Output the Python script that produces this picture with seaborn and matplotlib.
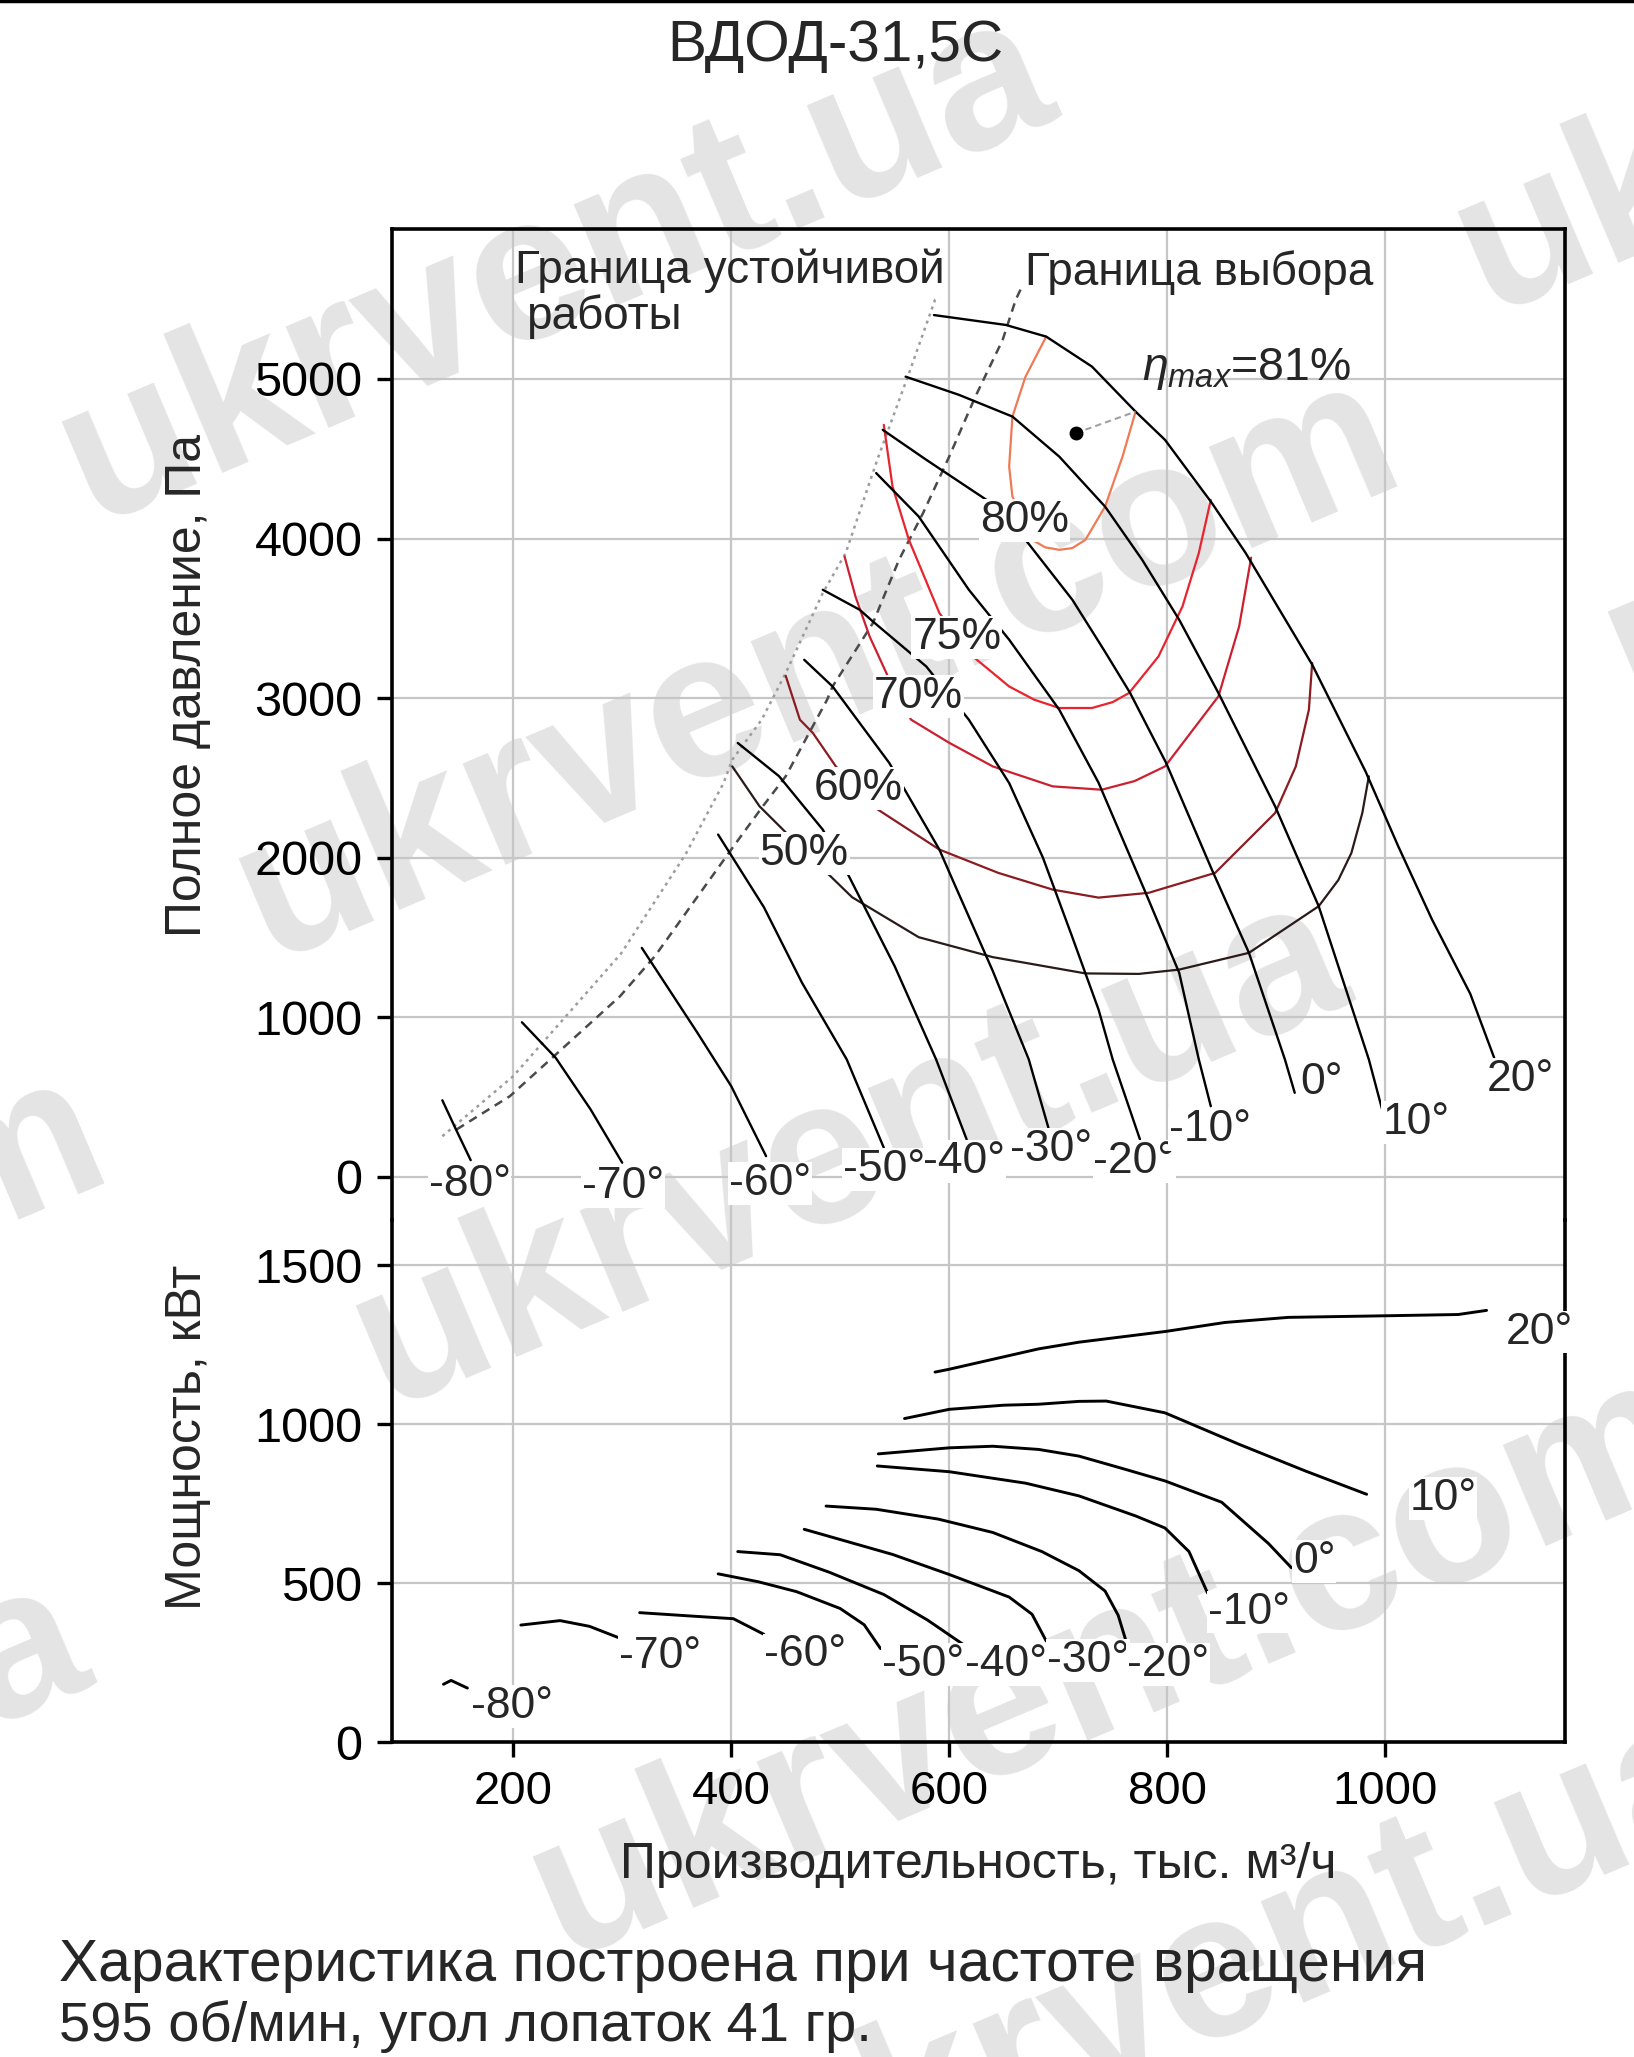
import matplotlib
matplotlib.use("Agg")
import matplotlib.pyplot as plt
from matplotlib.lines import Line2D
import seaborn as sns

sns.set_theme(style="whitegrid")
plt.rcParams['font.family'] = ['Liberation Sans', 'DejaVu Sans']
plt.rcParams['mathtext.fontset'] = 'custom'
plt.rcParams['mathtext.rm'] = 'Liberation Sans'
plt.rcParams['mathtext.it'] = 'Liberation Sans:italic'

# ---- pressure curves: Q (thousand m3/h) vs total pressure (Pa), per blade angle
q_m80 = [135, 148, 161]
p_m80 = [480, 290, 105]
q_m70 = [208, 239, 271, 300]
p_m70 = [969, 746, 423, 89]
q_m60 = [318, 369, 400, 432]
p_m60 = [1435, 903, 569, 130]
q_m50 = [388, 430, 465, 506, 540]
p_m50 = [2145, 1690, 1216, 736, 183]
q_m40 = [406, 444, 484, 508, 550, 588, 616]
p_m40 = [2719, 2510, 2176, 1884, 1320, 736, 235]
q_m30 = [467, 493, 545, 591, 603, 640, 673, 691]
p_m30 = [3240, 3073, 2594, 2051, 1863, 1290, 736, 308]
q_m20 = [484, 518, 530, 579, 618, 655, 686, 712, 737, 750, 775]
p_m20 = [3679, 3553, 3480, 3198, 2865, 2468, 2000, 1520, 1049, 736, 235]
q_m10 = [533, 572, 618, 655, 701, 737, 779, 811, 829, 840]
p_m10 = [4410, 4138, 3679, 3366, 2927, 2470, 1800, 1279, 736, 443]
q_0 = [539, 579, 634, 670, 713, 743, 766, 799, 841, 875, 908, 917]
p_0 = [4681, 4493, 4243, 3992, 3616, 3290, 3032, 2594, 1925, 1404, 736, 527]
q_10 = [560, 609, 658, 701, 743, 777, 811, 847, 899, 939, 985, 998]
p_10 = [5014, 4900, 4764, 4513, 4200, 3867, 3491, 3032, 2322, 1696, 736, 402]
q_20 = [586, 652, 689, 731, 771, 798, 841, 872, 933, 982, 1012, 1043, 1078, 1100]
p_20 = [5400, 5338, 5265, 5077, 4795, 4618, 4222, 3909, 3210, 2540, 2071, 1612, 1148, 746]

# ---- power curves: Q vs power (kW)
w_m80 = [136, 143, 158]
n_m80 = [183, 195, 171]
w_m70 = [207, 243, 270, 297]
n_m70 = [369, 383, 365, 329]
w_m60 = [316, 365, 402, 430]
n_m60 = [408, 397, 389, 340]
w_m50 = [388, 425, 460, 500, 522, 537]
n_m50 = [530, 505, 474, 421, 370, 295]
w_m40 = [406, 445, 490, 540, 580, 615]
n_m40 = [600, 590, 535, 465, 385, 303]
w_m30 = [467, 548, 600, 655, 676, 689]
n_m30 = [670, 591, 528, 457, 403, 319]
w_m20 = [487, 533, 590, 640, 685, 719, 743, 755, 763]
n_m20 = [743, 733, 702, 660, 600, 540, 476, 400, 310]
w_m10 = [534, 600, 670, 719, 771, 798, 820, 837]
n_m10 = [869, 851, 815, 775, 712, 674, 600, 470]
w_0 = [535, 600, 640, 682, 719, 760, 798, 850, 893, 914]
n_0 = [907, 926, 931, 921, 900, 860, 822, 755, 625, 549]
w_10 = [559, 600, 650, 682, 719, 744, 798, 866, 927, 983]
n_10 = [1018, 1047, 1060, 1063, 1072, 1073, 1036, 937, 853, 780]
w_20 = [587, 600, 682, 719, 799, 853, 911, 1000, 1067, 1093]
n_20 = [1164, 1173, 1237, 1258, 1292, 1320, 1336, 1341, 1345, 1358]

angle_labels = ['-80°', '-70°', '-60°', '-50°', '-40°', '-30°', '-20°', '-10°', '0°', '10°', '20°']

# ---- efficiency contours (Q, Pa)
eq_80 = [689, 670, 658, 655, 658, 676, 688, 701, 713, 725, 743, 759, 771]
ep_80 = [5265, 5014, 4764, 4451, 4263, 3992, 3945, 3929, 3940, 3992, 4200, 4513, 4795]
eq_75 = [540, 548, 563, 591, 618, 655, 678, 701, 731, 750, 765, 792, 814, 829, 840]
ep_75 = [4712, 4326, 3992, 3533, 3282, 3073, 2990, 2938, 2938, 2975, 3032, 3261, 3574, 3909, 4242]
eq_70 = [504, 514, 527, 548, 565, 600, 640, 695, 740, 770, 798, 847, 866, 877]
ep_70 = [3887, 3637, 3386, 3073, 2865, 2720, 2572, 2447, 2426, 2480, 2572, 3011, 3449, 3880]
eq_60 = [450, 463, 475, 496, 530, 591, 645, 695, 737, 783, 844, 899, 918, 930, 933]
ep_60 = [3140, 2865, 2781, 2572, 2322, 2051, 1905, 1800, 1750, 1780, 1905, 2280, 2572, 2927, 3220]
eq_50 = [401, 426, 469, 511, 572, 640, 725, 774, 811, 875, 939, 957, 969, 979, 985]
ep_50 = [2572, 2322, 2030, 1752, 1502, 1377, 1275, 1272, 1299, 1404, 1696, 1860, 2030, 2280, 2510]
eff_labels = ['80%', '75%', '70%', '60%', '50%']

# ---- operating limits
stab_q = [135, 200, 299, 358, 393, 401, 428, 450, 484, 505, 534, 562, 587, 591]
stab_p = [255, 631, 1400, 2020, 2468, 2614, 2865, 3157, 3658, 3908, 4493, 5014, 5495, 5510]
sel_q = [148, 197, 298, 330, 402, 429, 450, 488, 493, 530, 554, 576, 600, 624, 649, 661, 666]
sel_p = [297, 506, 1132, 1383, 2070, 2322, 2510, 2990, 3073, 3470, 3867, 4159, 4513, 4889, 5244, 5495, 5568]

eta_q, eta_p = 716, 4660
eta_tip_q, eta_tip_p = 771, 4795

pressure_curves = [(q_m80, p_m80), (q_m70, p_m70), (q_m60, p_m60), (q_m50, p_m50),
                   (q_m40, p_m40), (q_m30, p_m30), (q_m20, p_m20), (q_m10, p_m10),
                   (q_0, p_0), (q_10, p_10), (q_20, p_20)]
power_curves = [(w_m80, n_m80), (w_m70, n_m70), (w_m60, n_m60), (w_m50, n_m50),
                (w_m40, n_m40), (w_m30, n_m30), (w_m20, n_m20), (w_m10, n_m10),
                (w_0, n_0), (w_10, n_10), (w_20, n_20)]
eff_curves = [(eq_80, ep_80), (eq_75, ep_75), (eq_70, ep_70), (eq_60, ep_60), (eq_50, ep_50)]

# label placement (layout only)
p_lab_pos = [(160, -47), (301, -60), (436, -40), (540, 47), (614, 99), (693, 172),
             (770, 99), (839, 297), (942, 590), (1028, 339), (1124, 610)]
n_lab_pos = [(199, 113), (335, 270), (468, 275), (576, 244), (652, 244), (727, 258),
             (801, 244), (875, 410), (935, 570), (1053, 767), (1141, 1290)]
e_lab_pos = [(669, 4115), (607, 3380), (572, 3010), (517, 2435), (467, 2027)]
eff_colors = ['#f07a55', '#e8242e', '#cc2030', '#8a1c22', '#2a1a1a']

fig = plt.figure(figsize=(16.34, 20.57), dpi=100)

# watermark
wm = dict(color='#e4e4e4', fontsize=150, fontweight='bold', rotation=23,
          ha='center', va='center', zorder=-5)
for x, y, s in [(0.34, 0.87, 'ukrvent.ua'), (0.50, 0.675, 'ukrvent.com'),
                (0.52, 0.44, 'ukrvent.ua'), (0.68, 0.19, 'ukrvent.com'),
                (0.76, 0.045, 'ukrvent.ua'), (1.194, 0.972, 'ukrvent.ua'),
                (1.338, 0.795, 'ukrvent.com'), (-0.291, 0.336, 'ukrvent.com'),
                (-0.251, 0.108, 'ukrvent.ua')]:
    fig.text(x, y, s, **wm)

fig.add_artist(Line2D([0, 1], [0.9993, 0.9993], color='black', lw=2.5))

ax_p = fig.add_axes([0.2397, 0.4069, 0.7181, 0.4816])
ax_n = fig.add_axes([0.2397, 0.1529, 0.7181, 0.2540])

for ax in (ax_p, ax_n):
    ax.set_facecolor('none')
    ax.set_xlim(88.5, 1165)
    ax.set_xticks([200, 400, 600, 800, 1000])
    ax.grid(True, color='#c6c6c6', linewidth=1.6)
    ax.set_axisbelow(True)
    for sp in ax.spines.values():
        sp.set_color('black')
        sp.set_linewidth(2.6)
    ax.tick_params(axis='y', left=True, length=11, width=2.4, color='black',
                   labelsize=35, pad=10, labelcolor='black')
ax_p.spines['bottom'].set_visible(False)
ax_n.spines['top'].set_visible(False)
ax_p.tick_params(axis='x', bottom=False, labelbottom=False)
ax_n.tick_params(axis='x', bottom=True, length=11, width=2.4, color='black',
                 labelsize=34, pad=9, labelcolor='black')

ax_p.set_ylim(-270, 5937)
ax_p.set_yticks([0, 1000, 2000, 3000, 4000, 5000])
ax_n.set_ylim(0, 1642)
ax_n.set_yticks([0, 500, 1000, 1500])

# limits
sns.lineplot(x=stab_q, y=stab_p, ax=ax_p, color='#9c9c9c', linewidth=1.8,
             sort=False, estimator=None, linestyle=(0, (1.2, 1.8)))
sns.lineplot(x=sel_q, y=sel_p, ax=ax_p, color='#4a4a4a', linewidth=1.8,
             sort=False, estimator=None, linestyle=(0, (3.5, 2.5)))

# efficiency contours
for (q, p), c in zip(eff_curves, eff_colors):
    sns.lineplot(x=q, y=p, ax=ax_p, color=c, linewidth=1.6, sort=False, estimator=None)

# pressure and power curves
for q, p in pressure_curves:
    sns.lineplot(x=q, y=p, ax=ax_p, color='black', linewidth=1.7, sort=False, estimator=None)
for q, n in power_curves:
    sns.lineplot(x=q, y=n, ax=ax_n, color='black', linewidth=2.1, sort=False, estimator=None)

box = dict(boxstyle='square,pad=0.02', fc='white', ec='none')
for (x, y), s in zip(p_lab_pos, angle_labels):
    ax_p.text(x, y, s, fontsize=32, ha='center', va='center', bbox=box, zorder=4)
for (x, y), s in zip(n_lab_pos, angle_labels):
    ax_n.text(x, y, s, fontsize=32, ha='center', va='center', bbox=box, zorder=4)
for (x, y), s in zip(e_lab_pos, eff_labels):
    ax_p.text(x, y, s, fontsize=32, ha='center', va='center', bbox=box, zorder=4)

ax_p.plot([eta_q, eta_tip_q], [eta_p, eta_tip_p], color='#a0a0a0', lw=1.5,
          linestyle=(0, (3, 2)))
ax_p.plot([eta_q], [eta_p], 'o', color='black', markersize=9)
ax_p.text(777, 4990, r'$\eta_{max}$=81%', fontsize=33.5, ha='left', va='baseline')

ax_p.text(202, 5820, 'Граница устойчивой', fontsize=33, ha='left', va='top')
ax_p.text(212, 5530, 'работы', fontsize=33, ha='left', va='top')
ax_p.text(670, 5805, 'Граница выбора', fontsize=33, ha='left', va='top')

fig.text(0.1148, 0.667, 'Полное давление, Па', rotation=90, fontsize=36,
         ha='center', va='center')
fig.text(0.1148, 0.3014, 'Мощность, кВт', rotation=90, fontsize=36,
         ha='center', va='center')
fig.text(0.5987, 0.0933, 'Производительность, тыс. м³/ч', fontsize=36,
         ha='center', va='center')
fig.text(0.511, 0.9776, 'ВДОД-31,5С', fontsize=42, ha='center', va='center')
fig.text(0.036, 0.0445, 'Характеристика построена при частоте вращения',
         fontsize=42.3, ha='left', va='center')
fig.text(0.036, 0.0150, '595 об/мин, угол лопаток 41 гр.', fontsize=40.4,
         ha='left', va='center')

fig.savefig('out.png', dpi=100)
